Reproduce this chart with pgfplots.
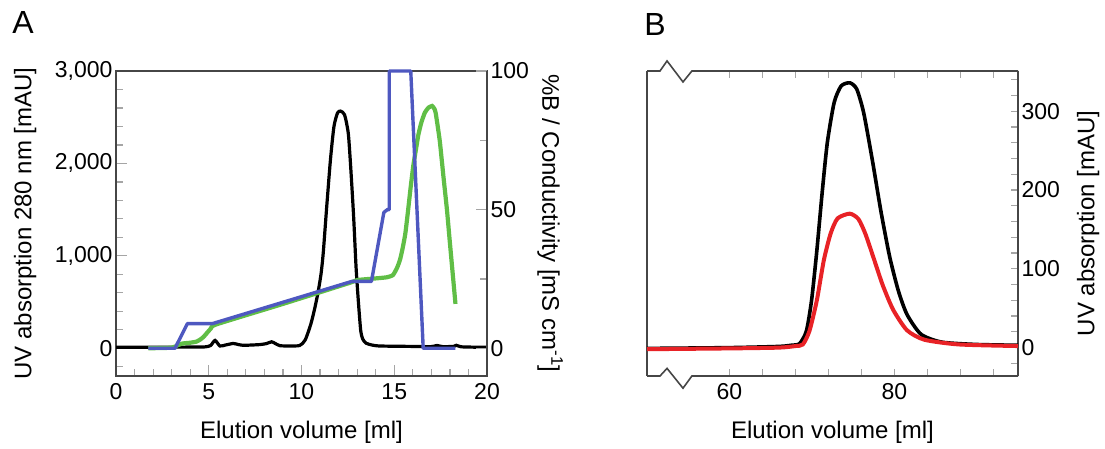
\documentclass[border=0pt]{standalone}
\usepackage{fontspec}
\setmainfont{Liberation Sans}
\usepackage{pgfplots}
\pgfplotsset{compat=1.18}

\definecolor{cgreen}{RGB}{96,190,70}
\definecolor{cblue}{RGB}{78,88,192}
\definecolor{cred}{RGB}{232,34,38}
\definecolor{axcol}{RGB}{70,70,70}
\definecolor{tkcol}{RGB}{165,165,165}

\pgfplotsset{
  panel/.style={
    scale only axis, width=371pt, height=305pt,
    anchor=south west,
    axis line style={color=axcol, line width=1.6pt},
    tick style={color=tkcol, line width=1.2pt},
    major tick length=11pt, minor tick length=7pt,
    tick label style={font=\fontsize{23}{27}\selectfont, color=black},
    /pgf/number format/assume math mode=true,
    xticklabel style={yshift=-4pt},
    label style={font=\fontsize{24}{28}\selectfont},
    clip=false,
  },
}

\begin{document}
\begin{tikzpicture}
\path[use as bounding box] (0,0) rectangle (1105pt,449pt);

\node[font=\fontsize{32}{36}\selectfont] at (23pt,427pt) {A};
\node[font=\fontsize{32}{36}\selectfont] at (655pt,424pt) {B};

% panel A, UV trace on the left axis
\begin{axis}[panel,
  at={(116pt,73pt)},
  xmin=0, xmax=20, ymin=-300, ymax=3000,
  xtick={0,5,10,15,20}, minor x tick num=4, xtick pos=bottom,
  ytick={0,1000,2000,3000}, yticklabels={0,{1,000},{2,000},{3,000}},
  minor ytick={-200,0,...,2800}, ytick pos=left,
  xlabel={Elution volume [ml]},
  xlabel style={at={(axis description cs:0.5,-0.184)}, anchor=center},
  ylabel={UV absorption 280 nm [mAU]},
  ylabel style={at={(axis description cs:-0.245,0.5)}, anchor=center},
]
\addplot[black, line width=3.2pt, smooth, tension=0.4] coordinates {
  (0,12) (1,12) (2,12) (3,12) (4,13) (4.8,15) (5.1,30) (5.34,85) (5.6,25)
  (5.9,35) (6.32,52) (6.6,40) (6.86,32) (7.3,35) (7.76,40) (8.1,50) (8.39,70)
  (8.6,50) (8.84,28) (9.3,25) (9.9,30) (10.2,90) (10.5,260) (10.7,420)
  (10.88,593) (11.05,800) (11.17,1027) (11.36,1533) (11.56,2039) (11.75,2400)
  (11.94,2545) (12.1,2566) (12.32,2527) (12.52,2329) (12.65,1967) (12.81,1424)
  (12.94,882) (13.06,521) (13.19,195) (13.3,100) (13.48,55) (13.8,35)
  (14.16,25) (15,22) (16,20) (17,18) (17.3,30) (17.6,18) (18.2,20) (18.35,32)
  (18.6,16) (19.3,12) (20,10)
};
\end{axis}

% panel A, conductivity and %B on the right axis
\begin{axis}[panel,
  at={(116pt,73pt)},
  xmin=0, xmax=20, ymin=-10, ymax=100,
  axis x line=none, axis y line*=right,
  ytick={0,50,100}, minor ytick={25,75},
  ylabel={\%B / Conductivity [mS cm\textsuperscript{-1}]},
  ylabel style={at={(axis description cs:1.17,0.5)}, anchor=center, rotate=180},
]
\addplot[cgreen, line width=4.2pt, smooth, tension=0.3] coordinates {
  (1.74,0) (2.99,0.2) (3.3,1.0) (3.57,1.7) (4.0,2.0) (4.34,2.4) (4.55,3.2)
  (4.72,4.1) (4.9,5.5) (5.11,7.1) (5.4,8.6) (9.0,16.0) (12.6,23.6) (13.0,24.6)
  (14.0,25.2) (14.6,25.6) (14.93,26.4) (15.15,29) (15.31,31.9) (15.45,36)
  (15.6,41.5) (15.75,50) (15.89,58.4) (16.03,66) (16.17,71.7) (16.3,77)
  (16.46,81.4) (16.65,85) (16.85,86.8) (17.04,87.4) (17.15,86.5) (17.23,85)
  (17.45,75) (17.65,62) (17.84,50) (18.0,38) (18.15,27) (18.3,16)
};
\addplot[cblue, line width=3.4pt, line join=round] coordinates {
  (1.74,0) (3.18,0) (3.85,8.9) (5.2,8.9) (12.71,24.1) (13.77,24.1)
  (14.44,49) (14.63,50) (14.73,50) (14.73,100) (15.89,100) (16.56,0) (18.3,0)
};
\end{axis}

% panel B
\begin{axis}[panel,
  at={(647pt,73pt)},
  xmin=50, xmax=95, ymin=-36, ymax=351,
  separate axis lines, x axis line style={draw=none},
  xtick={60,80}, minor xtick={64,68,72,76,84,88,92},
  major tick length=7pt,
  ytick={0,100,200,300}, minor ytick={-20,0,...,340}, ytick pos=right,
  xlabel={Elution volume [ml]},
  xlabel style={at={(axis description cs:0.5,-0.184)}, anchor=center},
  ylabel={UV absorption [mAU]},
  ylabel style={at={(axis description cs:1.189,0.5)}, anchor=center},
]
\draw[axcol, line width=1.6pt, line join=miter]
  (rel axis cs:0,1) -- (rel axis cs:0.035,1) -- (rel axis cs:0.054,1.033)
  -- (rel axis cs:0.097,0.964) -- (rel axis cs:0.121,1) -- (rel axis cs:1,1);
\draw[axcol, line width=1.6pt, line join=miter]
  (rel axis cs:0,0) -- (rel axis cs:0.035,0) -- (rel axis cs:0.054,0.025)
  -- (rel axis cs:0.097,-0.04) -- (rel axis cs:0.121,0) -- (rel axis cs:1,0);
\addplot[black, line width=3.6pt, smooth, tension=0.4] coordinates {
  (50,-1) (60,0) (66,1.5) (67.5,3) (68.5,5) (69.33,21) (69.96,60) (70.6,123)
  (71.24,196) (71.87,260) (72.7,311) (73.55,332) (74.6,336) (75.44,328)
  (76.28,298) (77.33,238) (78.39,172) (79.44,115) (80.49,72) (81.54,42)
  (83.23,17) (85.74,7) (89.96,4) (95,3)
};
\addplot[cred, line width=4pt, smooth, tension=0.4] coordinates {
  (50,-2) (60,-1) (66,0) (68,2) (68.9,4) (69.7,21) (70.6,60) (71.45,111)
  (72.28,145) (73.12,164) (74.6,170) (75.65,163) (76.5,144) (77.54,112)
  (78.6,79) (79.86,48) (81.54,22) (83.65,10) (87.86,4) (95,2)
};
\end{axis}
\end{tikzpicture}
\end{document}
